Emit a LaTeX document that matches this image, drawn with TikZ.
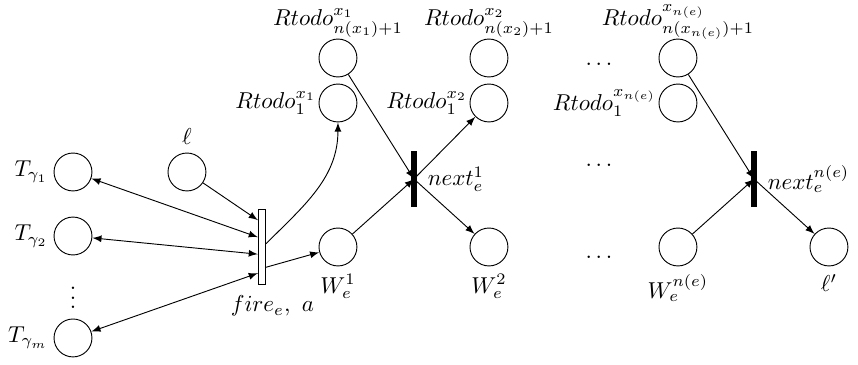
\documentclass[tikz,border=0pt]{standalone}
\usetikzlibrary{arrows}

\begin{document}
\begin{tikzpicture}[
		pnode/.style={draw, circle, minimum size=0.58cm, inner sep=0pt},
		tbox/.style={draw, fill=white, rectangle, minimum width=0.11cm, minimum height=1.16cm, inner sep=0pt},
		tbar/.style={draw, fill=black, rectangle, minimum width=0.09cm, minimum height=0.83cm, inner sep=0pt},
		flow/.style={-latex},
		lleft/.style={label={[label distance=-2.5pt]left:#1}},
		ltop/.style={label={[label distance=-4pt, text depth=6pt]above:#1}}]
		%%%%% START %%%%%
		
		\useasboundingbox (0, 0) rectangle (13.12, -5.58);
		
		% tokens of the gammas
		\node[pnode, label={[label distance=-1pt]left:$T_{\gamma_1}$}] (t1) at (1.116, -2.630) {};
		\node[pnode, label={[label distance=-1pt]left:$T_{\gamma_2}$}] (t2) at (1.116, -3.609) {};
		\node[pnode, label={[label distance=-1pt]left:$T_{\gamma_m}$}] (tm) at (1.116, -5.168) {};
		\node (vd) at (1.116, -4.45) {$\vdots$};
		
		\node[pnode, label=above:$\ell$] (l) at (2.859, -2.630) {};
		\node[tbox, label={[xshift=0.16cm, yshift=-1pt]below:$fire_e,~a$}] (fire) at (4.006, -3.777) {};
		
		% first block
		\node[pnode, ltop=$Rtodo^{x_1}_{n(x_1)+1}$] (r1top) at (5.168, -0.887) {};
		\node[pnode, lleft=$Rtodo^{x_1}_1$] (r1) at (5.168, -1.575) {};
		\node[pnode, label=below:$W^1_e$] (w1) at (5.168, -3.777) {};
		\node[tbar, label={[label distance=1pt]right:$next^1_e$}] (n1) at (6.330, -2.737) {};
		
		\node[pnode, ltop=$Rtodo^{x_2}_{n(x_2)+1}$] (r2top) at (7.477, -0.887) {};
		\node[pnode, lleft=$Rtodo^{x_2}_1$] (r2) at (7.477, -1.575) {};
		\node[pnode, label=below:$W^2_e$] (w2) at (7.477, -3.777) {};
		
		\node (d1) at (9.159, -0.99) {$\dots$};
		\node (d2) at (9.159, -2.53) {$\dots$};
		\node (d3) at (9.159, -3.94) {$\dots$};
		
		% last block
		\node[pnode, ltop=$Rtodo^{x_{n(e)}}_{n(x_{n(e)})+1}$] (rntop) at (10.367, -0.887) {};
		\node[pnode, lleft=$Rtodo^{x_{n(e)}}_1$] (rn) at (10.367, -1.575) {};
		\node[pnode, label=below:$W^{n(e)}_e$] (wn) at (10.367, -3.777) {};
		\node[tbar, label={[label distance=1pt]right:$next^{n(e)}_e$}] (nn) at (11.529, -2.737) {};
		\node[pnode, label=below:$\ell'$] (lp) at (12.676, -3.777) {};
		
		% arcs
		\draw[flow] (l) -- ([yshift=0.41cm]fire.west);
		\draw[latex-latex] (t1) -- ([yshift=0.15cm]fire.west);
		\draw[latex-latex] (t2) -- ([yshift=-0.11cm]fire.west);
		\draw[latex-latex] (tm) -- ([yshift=-0.40cm]fire.west);
		\draw[flow] ([yshift=0.05cm]fire.east) to[out=45, in=-90] (r1);
		\draw[flow] ([yshift=-0.31cm]fire.east) -- (w1);
		
		\draw[flow] (r1top) -- (n1.center);
		\draw[flow] (w1) -- (n1.center);
		\draw[flow] (n1.center) -- (r2);
		\draw[flow] (n1.center) -- (w2);
		
		\draw[flow] (rntop) -- (nn.center);
		\draw[flow] (wn) -- (nn.center);
		\draw[flow] (nn.center) -- (lp);
		
		%%%%% END %%%%%
	\end{tikzpicture}
\end{document}
